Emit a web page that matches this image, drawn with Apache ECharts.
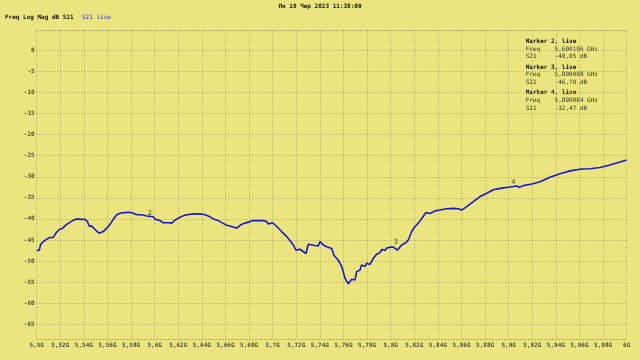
<!DOCTYPE html>
<html>
<head>
<meta charset="utf-8">
<script src="https://cdn.jsdelivr.net/npm/echarts@6/dist/echarts.min.js"></script>
<style>html,body{margin:0;padding:0;background:#ebe580;}#c{width:640px;height:360px;}</style>
</head>
<body>
<div id="c"></div>
<script>
// ---- data ----
const freqGHz = [5.5000,5.5022,5.5034,5.5056,5.5085,5.5113,5.5141,5.5164,5.5192,5.5220,5.5254,5.5288,5.5310,5.5339,5.5367,5.5409,5.5429,5.5446,5.5466,5.5494,5.5528,5.5564,5.5593,5.5621,5.5649,5.5678,5.5712,5.5748,5.5776,5.5791,5.5814,5.5847,5.5890,5.5932,5.5988,5.6002,5.6017,5.6045,5.6073,5.6115,5.6144,5.6172,5.6214,5.6257,5.6299,5.6342,5.6384,5.6426,5.6469,5.6497,5.6539,5.6576,5.6610,5.6653,5.6695,5.6729,5.6765,5.6802,5.6831,5.6864,5.6920,5.6949,5.6963,5.7000,5.7034,5.7076,5.7119,5.7147,5.7175,5.7197,5.7231,5.7282,5.7302,5.7358,5.7386,5.7401,5.7429,5.7458,5.7500,5.7519,5.7556,5.7585,5.7613,5.7641,5.7669,5.7697,5.7712,5.7740,5.7754,5.7782,5.7797,5.7825,5.7853,5.7881,5.7909,5.7924,5.7952,5.7966,5.8001,5.8022,5.8056,5.8093,5.8130,5.8149,5.8178,5.8206,5.8234,5.8263,5.8299,5.8333,5.8375,5.8418,5.8475,5.8531,5.8573,5.8602,5.8644,5.8700,5.8757,5.8814,5.8869,5.8941,5.8998,5.9068,5.9090,5.9124,5.9195,5.9266,5.9350,5.9435,5.9520,5.9604,5.9689,5.9774,5.9858,5.9943,6.0000];
const s21dB = [-47.5,-47.4,-46.0,-45.4,-44.8,-44.4,-44.4,-43.3,-42.5,-42.2,-41.3,-40.7,-40.3,-40.0,-40.1,-40.1,-40.6,-41.7,-41.7,-42.5,-43.4,-43.0,-42.2,-41.3,-40.1,-39.0,-38.6,-38.5,-38.4,-38.7,-38.6,-39.0,-39.0,-39.3,-39.5,-40.05,-39.9,-40.4,-40.9,-40.9,-41.0,-40.3,-39.6,-39.1,-38.9,-38.8,-38.8,-39.0,-39.5,-40.0,-40.4,-41.0,-41.5,-41.8,-42.2,-41.4,-41.0,-40.7,-40.4,-40.4,-40.4,-40.6,-41.2,-40.9,-41.8,-43.0,-44.2,-45.2,-46.2,-47.4,-47.2,-48.2,-46.0,-46.3,-46.4,-45.4,-46.2,-46.6,-47.0,-48.6,-49.8,-51.3,-54.1,-55.4,-54.3,-54.5,-52.5,-52.1,-50.9,-51.3,-50.5,-50.8,-49.3,-48.4,-48.0,-47.2,-47.5,-46.9,-46.7,-46.7,-47.4,-46.2,-45.6,-45.0,-43.0,-41.8,-41.0,-39.9,-38.5,-38.7,-38.1,-37.9,-37.6,-37.5,-37.6,-37.9,-37.1,-35.9,-34.7,-33.9,-33.1,-32.7,-32.47,-32.2,-32.5,-32.1,-31.7,-31.2,-30.1,-29.3,-28.6,-28.2,-28.1,-27.8,-27.2,-26.5,-26.0];
const markerNames = ['2','3','4'];
const markerFreqGHz = [5.600196, 5.800098, 5.899804];
const markerS21 = [-40.05, -46.70, -32.47];
const titleText = 'Пн 19 Чер 2023 11:38:00';
const traceTitle = 'Freq Log Mag dB S21';
const traceName = 'S21 live';

// ---- chart ----
const FONT = '"DejaVu Sans Mono", "Liberation Mono", monospace';
const FS = 6;
const gridCol = '#a9a16a';
const dotted = {color: gridCol, width: 1, type: [1, 2]};
const L = 36.7, R = 13.3;

const fmtX = v => (Math.round(v * 100) / 100).toString().replace('.', ',') + 'G';
const fmtNum = (v, d) => v.toFixed(d).replace('.', ',');

const chart = echarts.init(document.getElementById('c'), null, {renderer: 'canvas'});

const textLines = [];
let y0 = 38.3;
for (let i = 0; i < markerNames.length; i++) {
  const base = y0 + i * 25.8;
  textLines.push({t: 'Marker ' + markerNames[i] + ', live', y: base, c: '#111', b: true});
  textLines.push({t: 'Freq    ' + fmtNum(markerFreqGHz[i], 6) + ' GHz', y: base + 7.7, c: '#333322'});
  textLines.push({t: 'S21     ' + fmtNum(markerS21[i], 2) + ' dB', y: base + 15.4, c: '#333322'});
}

const graphics = [
  {type: 'text', left: 'center', top: 3, style: {text: titleText, font: 'bold ' + FS + 'px ' + FONT, fill: '#111'}},
  {type: 'text', left: 5, top: 14, style: {text: traceTitle, font: 'bold ' + FS + 'px ' + FONT, fill: '#111'}},
  {type: 'text', left: 82, top: 14, style: {text: traceName, font: FS + 'px ' + FONT, fill: '#3232c0'}}
].concat(textLines.map(l => ({type: 'text', left: 525.7, top: l.y, style: {text: l.t, font: (l.b ? 'bold ' : '') + FS + 'px ' + FONT, fill: l.c}})));

const markerOffsets = [[-5, -6], [5, -5], [5, -5]];

chart.setOption({
  backgroundColor: '#ebe580',
  animation: false,
  grid: [
    {left: L, right: R, top: 30.7, bottom: 21, containLabel: false},
    {left: L, right: R, top: 50.3, bottom: 35.7, containLabel: false}
  ],
  xAxis: [
    {gridIndex: 0, type: 'value', min: 5.5, max: 6, interval: 0.02, position: 'bottom',
     axisLine: {show: true, onZero: false, lineStyle: dotted}, axisTick: {show: false},
     splitLine: {show: true, lineStyle: dotted},
     axisLabel: {show: true, interval: 0, hideOverlap: false, showMinLabel: true, showMaxLabel: true,
       formatter: fmtX, margin: 3, fontSize: FS, fontFamily: FONT, color: '#4d4d38', fontWeight: 'bold'}},
    {gridIndex: 0, type: 'value', min: 5.5, max: 6, interval: 0.02, position: 'top',
     axisLine: {show: true, onZero: false, lineStyle: dotted}, axisTick: {show: false},
     splitLine: {show: false}, axisLabel: {show: false}},
    {gridIndex: 1, type: 'value', min: 5.5, max: 6, show: false, splitLine: {show: false}}
  ],
  yAxis: [
    {gridIndex: 0, type: 'value', min: 0, max: 1, show: false, splitLine: {show: false}},
    {gridIndex: 1, type: 'value', min: -65, max: 0, interval: 5,
     axisLine: {show: false}, axisTick: {show: false},
     splitLine: {show: true, lineStyle: dotted},
     axisLabel: {show: true, margin: 2, fontSize: FS, fontFamily: FONT, color: '#4d4d38', fontWeight: 'bold'}}
  ],
  graphic: graphics,
  series: [
    {type: 'line', xAxisIndex: 2, yAxisIndex: 1, data: freqGHz.map((f, i) => [f, s21dB[i]]),
     symbol: 'none', smooth: false, lineStyle: {color: '#1818d0', width: 1.6}, silent: true},
    {type: 'scatter', xAxisIndex: 2, yAxisIndex: 1, symbol: 'circle', symbolSize: 2,
     itemStyle: {color: 'rgba(0,0,0,0)'},
     data: markerFreqGHz.map((f, i) => ({value: [f, markerS21[i]], name: markerNames[i],
       label: {offset: markerOffsets[i]}})),
     label: {show: true, formatter: '{b}', position: 'inside', fontSize: FS + 1, fontFamily: FONT, color: '#5e5e20', fontWeight: 'bold'}}
  ]
});
</script>
</body>
</html>
